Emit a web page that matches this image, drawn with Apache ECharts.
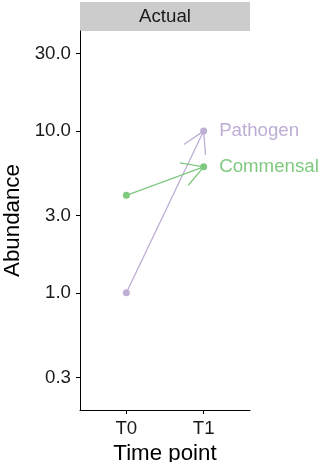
<!DOCTYPE html>
<html>
<head>
<meta charset="utf-8">
<script src="https://cdn.jsdelivr.net/npm/echarts@6/dist/echarts.min.js"></script>
<style>
html,body{margin:0;padding:0;background:#fff;}
#chart{width:324px;height:462px;}
</style>
</head>
<body>
<div id="chart"></div>
<script>
// ---- data ----
const categories = ['T0', 'T1'];
const groups = ['Pathogen', 'Commensal'];
const valuesT0 = [1.0, 4.0];
const valuesT1 = [10.0, 6.0];
const yTickValues = [0.3, 1, 3, 10, 30];
const facetLabel = 'Actual';
const xTitle = 'Time point';
const yTitle = 'Abundance';

// ---- styling ----
const groupColors = ['#BEAED4', '#7FC97F'];
const FONT = 'Liberation Sans';
const axisColor = '#000000';
const textColor = '#1a1a1a';

const chart = echarts.init(document.getElementById('chart'), null, {renderer: 'canvas'});

const series = [];
// arrows (segment + open arrow head)
series.push({
  type: 'custom',
  silent: true,
  z: 2,
  data: groups.map((g, i) => [0, valuesT0[i], 1, valuesT1[i], i]),
  encode: {x: [0, 2], y: [1, 3]},
  renderItem: function (params, api) {
    const i = api.value(4);
    const p0 = api.coord([api.value(0), api.value(1)]);
    const p1 = api.coord([api.value(2), api.value(3)]);
    const dx = p0[0] - p1[0], dy = p0[1] - p1[1];
    const len = Math.sqrt(dx * dx + dy * dy);
    const ux = dx / len, uy = dy / len;
    const L = 24, a = Math.PI / 6;
    const rot = (ang) => [p1[0] + L * (ux * Math.cos(ang) - uy * Math.sin(ang)),
                          p1[1] + L * (ux * Math.sin(ang) + uy * Math.cos(ang))];
    const b1 = rot(a), b2 = rot(-a);
    const style = {stroke: groupColors[i], lineWidth: 1.3, fill: null};
    return {
      type: 'group',
      children: [
        {type: 'line', shape: {x1: p0[0], y1: p0[1], x2: p1[0], y2: p1[1]}, style: style},
        {type: 'polyline', shape: {points: [b1, p1, b2]}, style: style}
      ]
    };
  }
});
// points + end labels
groups.forEach((g, i) => {
  series.push({
    type: 'scatter',
    name: g,
    z: 3,
    symbol: 'circle',
    symbolSize: 7,
    itemStyle: {color: groupColors[i], opacity: 1},
    data: [
      [0, valuesT0[i]],
      {value: [1, valuesT1[i]], label: {show: true, formatter: g, position: 'right', distance: 12,
        color: groupColors[i], fontSize: 18.7, fontFamily: FONT}}
    ]
  });
});

const option = {
  backgroundColor: '#ffffff',
  animation: false,
  textStyle: {fontFamily: FONT},
  grid: {left: 80, right: 74, top: 31, bottom: 52, containLabel: false, outerBoundsMode: 'none'},
  graphic: [
    {type: 'rect', shape: {x: 80, y: 2, width: 170, height: 29}, style: {fill: '#CCCCCC'}, z: 0},
    {type: 'text', x: 165, y: 17, style: {text: facetLabel, fontSize: 18.7, fontFamily: FONT,
      fill: textColor, align: 'center', verticalAlign: 'middle'}, z: 1}
  ],
  xAxis: {
    type: 'value',
    min: -0.6, max: 1.6,
    name: xTitle,
    nameLocation: 'middle',
    nameGap: 29,
    nameTextStyle: {fontSize: 22.3, color: '#000', fontFamily: FONT},
    axisLine: {show: true, onZero: false, lineStyle: {color: axisColor, width: 1}},
    axisTick: {show: true, length: 4, lineStyle: {color: axisColor}, customValues: [0, 1]},
    axisLabel: {customValues: [0, 1], formatter: (v) => categories[Math.round(v)],
      fontSize: 18.7, color: textColor, margin: 9, fontFamily: FONT},
    splitLine: {show: false}
  },
  yAxis: {
    type: 'log',
    logBase: 10,
    min: 0.189, max: 41.4,
    name: yTitle,
    nameLocation: 'middle',
    nameGap: 50,
    nameRotate: 90,
    nameTextStyle: {fontSize: 22.3, color: '#000', fontFamily: FONT},
    axisLine: {show: true, onZero: false, lineStyle: {color: axisColor, width: 1}},
    axisTick: {show: true, length: 4, lineStyle: {color: axisColor}, customValues: yTickValues},
    axisLabel: {customValues: yTickValues, formatter: (v) => Number(v).toFixed(1),
      fontSize: 18.7, color: textColor, margin: 9, fontFamily: FONT},
    splitLine: {show: false},
    minorTick: {show: false}
  },
  series: series
};
chart.setOption(option);
</script>
</body>
</html>
